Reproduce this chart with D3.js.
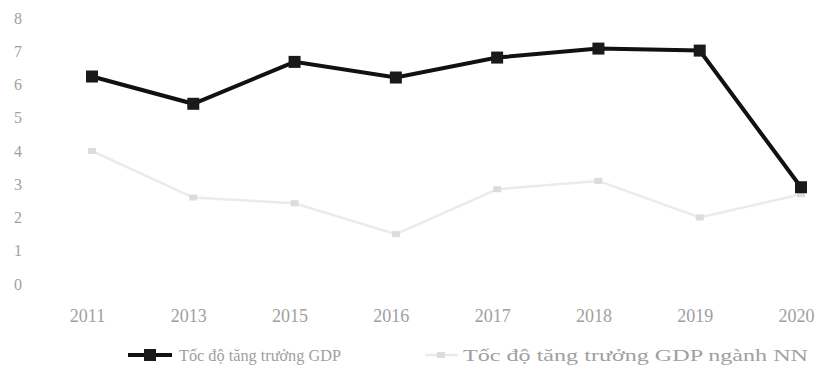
<!DOCTYPE html>
<html>
<head>
<meta charset="utf-8">
<script src="https://cdn.jsdelivr.net/npm/d3@7"></script>
<style>
  body { margin: 0; background: #fff; }
  text { font-family: "Liberation Serif", "DejaVu Serif", serif; }
</style>
</head>
<body>
<div class="chart-div"></div>
<script>
const years = ["2011", "2013", "2015", "2016", "2017", "2018", "2019", "2020"];
const gdp = [6.24, 5.42, 6.68, 6.21, 6.81, 7.08, 7.02, 2.91];
const gdpNN = [4.0, 2.6, 2.43, 1.5, 2.85, 3.1, 2.0, 2.7];
const yTicks = [0, 1, 2, 3, 4, 5, 6, 7, 8];
const seriesNames = ["Tốc độ tăng trưởng GDP", "Tốc độ tăng trưởng GDP ngành NN"];

const w = 836;
const h = 385;

const svg = d3.select(".chart-div")
    .append("svg")
    .attr("width", w)
    .attr("height", h);

const xScale = d3.scalePoint()
    .domain(years)
    .range([92, 801]);

const yScale = d3.scaleLinear()
    .domain([0, 8])
    .range([284, 18]);

// y axis, only labels visible
const yAxis = d3.axisLeft(yScale).tickValues(yTicks).tickSize(0).tickPadding(0);
const gy = svg.append("g")
    .attr("transform", "translate(22,0)")
    .call(yAxis);
gy.select(".domain").remove();
gy.selectAll("text")
    .attr("fill", "#a0a0a0")
    .style("font-size", "16px")
    .style("font-family", "Liberation Serif, serif");

// x axis
const xAxis = d3.axisBottom(xScale).tickSize(0).tickPadding(0);
const gx = svg.append("g")
    .attr("transform", "translate(-5,309)")
    .call(xAxis);
gx.select(".domain").remove();
gx.selectAll("text")
    .attr("fill", "#a0a0a0")
    .style("font-size", "18px")
    .style("font-family", "Liberation Serif, serif");

const line = d3.line()
    .x((d, i) => xScale(years[i]))
    .y(d => yScale(d));

// light grey series (NN)
svg.append("path")
    .datum(gdpNN)
    .attr("fill", "none")
    .attr("stroke", "#ebebeb")
    .attr("stroke-width", 2.5)
    .attr("d", line);

svg.selectAll(".nn-pt")
    .data(gdpNN).enter()
    .append("rect")
    .attr("class", "nn-pt")
    .attr("x", (d, i) => xScale(years[i]) - 4)
    .attr("y", d => yScale(d) - 3)
    .attr("width", 8)
    .attr("height", 6)
    .attr("fill", "#dcdcdc");

// black series (GDP)
svg.append("path")
    .datum(gdp)
    .attr("fill", "none")
    .attr("stroke", "#111")
    .attr("stroke-width", 4)
    .attr("d", line);

svg.selectAll(".gdp-pt")
    .data(gdp).enter()
    .append("rect")
    .attr("class", "gdp-pt")
    .attr("x", (d, i) => xScale(years[i]) - 6)
    .attr("y", d => yScale(d) - 6)
    .attr("width", 12)
    .attr("height", 12)
    .attr("fill", "#1a1a1a");

// legend
const legend = svg.append("g").attr("transform", "translate(0,355)");
legend.append("line")
    .attr("x1", 128).attr("x2", 172).attr("y1", 0).attr("y2", 0)
    .attr("stroke", "#111").attr("stroke-width", 4);
legend.append("rect")
    .attr("x", 144).attr("y", -6).attr("width", 12).attr("height", 12)
    .attr("fill", "#1a1a1a");
legend.append("text")
    .attr("x", 179).attr("y", 6)
    .attr("fill", "#a0a0a0")
    .attr("textLength", 162)
    .attr("lengthAdjust", "spacingAndGlyphs")
    .style("font-size", "17px")
    .text(seriesNames[0]);

legend.append("line")
    .attr("x1", 425).attr("x2", 458).attr("y1", 0).attr("y2", 0)
    .attr("stroke", "#ebebeb").attr("stroke-width", 2.5);
legend.append("rect")
    .attr("x", 437).attr("y", -3).attr("width", 8).attr("height", 6)
    .attr("fill", "#dcdcdc");
legend.append("text")
    .attr("x", 463).attr("y", 6)
    .attr("fill", "#a0a0a0")
    .attr("textLength", 345)
    .attr("lengthAdjust", "spacingAndGlyphs")
    .style("font-size", "17px")
    .text(seriesNames[1]);
</script>
</body>
</html>
